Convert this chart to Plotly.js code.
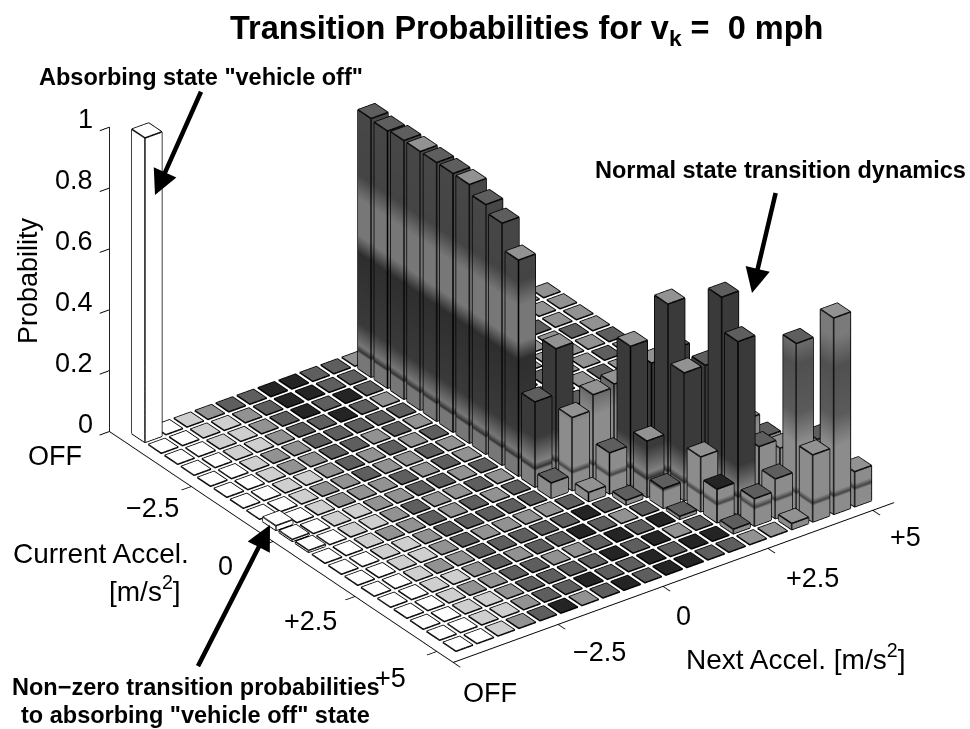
<!DOCTYPE html>
<html><head><meta charset="utf-8">
<script src="https://cdn.plot.ly/plotly-3.0.1.min.js"></script>
<style>html,body{margin:0;padding:0;background:#fff}#plot{width:970px;height:729px}</style>
</head><body><div id="plot"></div>
<script>
// Current accel rows (index 0 = OFF) and next accel columns
const gridSize = 20;
const tickPos = [-1, 4, 9, 14, 19];
const currentTicks = ["OFF", "\u22122.5", "0", "+2.5", "+5"];
const nextTicks = ["OFF", "\u22122.5", "0", "+2.5", "+5"];
const probTicks = [0, 0.2, 0.4, 0.6, 0.8, 1];
const probTickText = ["0", "0.2", "0.4", "0.6", "0.8", "1"];

// Non-zero bars
const barCurrent = [0, 8, 9, 10, 1,2,3,4,5,6,7,8,9,10, 11,11,12,12,12,12,13,13,13,13,13,14,14,14,14,15,15,15,15,16,16,16,16,16,17,17,17,17,18,18,18,18,18,19,19,19,19];
const barNext    = [0, 0, 0, 0, 10,10,10,10,10,10,10,10,10,10, 10,11,10,11,12,13,11,12,13,14,15,12,13,14,16,13,14,15,16,13,14,15,16,17,14,15,16,17,14,15,16,17,18,16,17,18,19];
const barProb    = [1, .015,.006,.006, .85,.845,.85,.85,.85,.85,.85,.82,.795,.71, .28,.43,.05,.24,.29,.30,.03,.135,.46,.38,.40,.015,.185,.61,.30,.065,.42,.42,.25,.01,.18,.68,.25,.17,.11,.57,.20,.17,.015,.09,.13,.55,.21,.02,.22,.645,.115];
// Side tone of each bar: 0 pale, 1 grey, 2 dark with a pale band, 3 dark
const barTone    = [0, 0,0,0, 2,2,2,2,2,2,2,2,2,2, 3,3,1,1,1,1,1,1,3,3,3,1,3,3,1,1,3,3,1,1,1,3,1,1,1,3,1,1,1,1,1,1,1,1,1,1,1];
// Halftone level of each cell top, one string per current accel row
const cellShade = [
"00123344332222222222","00112344333222232222","00112343433323222322","00112334323322222232",
"00122333332232322223","00122332323322232232","00112323233232322323","00122322322323232232",
"00122232323322323223","00112233233322232232","00112322322332323322","00122323233232322323",
"00112333333222333232","00112322223232233323","00122333334332222323","00112323343233232332",
"00122332234343232333","00112333343423433232","00112334334344333332","00123423434433222222"];
const shadeColors = ["#ffffff","#cfcfcf","#929292","#5e5e5e","#242424"];
const half = 0.4;

const height = [...Array(gridSize)].map(() => Array(gridSize).fill(0));
const tone = [...Array(gridSize)].map(() => Array(gridSize).fill(0));
barCurrent.forEach((j, k) => { height[j][barNext[k]] = barProb[k]; tone[j][barNext[k]] = barTone[k]; });

function newMesh() { return {x:[],y:[],z:[],i:[],j:[],k:[],fc:[]}; }
function quad(m, pts, color) {
  const n = m.x.length;
  pts.forEach(p => { m.x.push(p[0]); m.y.push(p[1]); m.z.push(p[2]); });
  m.i.push(n, n); m.j.push(n+1, n+2); m.k.push(n+2, n+3);
  if (color) m.fc.push(color, color);
}
const tops = newMesh();
const sides = [newMesh(), newMesh(), newMesh(), newMesh()];
const ex = [], ey = [], ez = [];
function edge(pts) { pts.forEach(p => { ex.push(p[0]); ey.push(p[1]); ez.push(p[2]); }); ex.push(null); ey.push(null); ez.push(null); }

for (let j = 0; j < gridSize; j++) for (let i = 0; i < gridSize; i++) {
  const h = height[j][i];
  const x0 = j-half, x1 = j+half, y0 = i-half, y1 = i+half;
  quad(tops, [[x0,y0,h],[x1,y0,h],[x1,y1,h],[x0,y1,h]], shadeColors[+cellShade[j][i]]);
  edge([[x0,y0,h],[x1,y0,h],[x1,y1,h],[x0,y1,h],[x0,y0,h]]);
  if (h > 0) {
    const s = sides[tone[j][i]];
    quad(s, [[x1,y0,0],[x1,y1,0],[x1,y1,h],[x1,y0,h]]);
    quad(s, [[x0,y0,0],[x1,y0,0],[x1,y0,h],[x0,y0,h]]);
    quad(s, [[x0,y1,0],[x1,y1,0],[x1,y1,h],[x0,y1,h]]);
    quad(s, [[x0,y0,0],[x0,y1,0],[x0,y1,h],[x0,y0,h]]);
    edge([[x0,y0,0],[x1,y0,0],[x1,y1,0]]);
    edge([[x1,y0,0],[x1,y0,h]]);
    edge([[x1,y1,0],[x1,y1,h]]);
    edge([[x0,y0,0],[x0,y0,h]]);
  }
}
const flat = {ambient:1,diffuse:0,specular:0,roughness:1,fresnel:0};
const scales = [
  [[0,"#ffffff"],[1,"#ffffff"]],
  [[0,"#8c8c8c"],[.05,"#8c8c8c"],[.06,"#444"],[.075,"#8c8c8c"],[.22,"#8c8c8c"],[.32,"#5a5a5a"],[.48,"#505050"],[.58,"#7a7a7a"],[1,"#7a7a7a"]],
  [[0,"#777"],[.05,"#777"],[.06,"#333"],[.08,"#777"],[.15,"#3a3a3a"],[.38,"#2e2e2e"],[.44,"#777"],[.56,"#777"],[.64,"#444"],[1,"#4a4a4a"]],
  [[0,"#808080"],[.05,"#808080"],[.06,"#333"],[.08,"#808080"],[.16,"#3a3a3a"],[1,"#3a3a3a"]]
];
const data = [{type:"mesh3d",x:tops.x,y:tops.y,z:tops.z,i:tops.i,j:tops.j,k:tops.k,facecolor:tops.fc,flatshading:true,lighting:flat,hoverinfo:"skip",showscale:false}];
sides.forEach((s, t) => data.push({type:"mesh3d",x:s.x,y:s.y,z:s.z,i:s.i,j:s.j,k:s.k,intensity:s.z,cmin:0,cmax:1,colorscale:scales[t],lighting:flat,hoverinfo:"skip",showscale:false}));
data.push({type:"scatter3d",mode:"lines",x:ex,y:ey,z:ez,line:{color:"#000",width:3},hoverinfo:"skip",showlegend:false,connectgaps:false});

const axisBase = {showgrid:false,zeroline:false,showbackground:false,showspikes:false,showline:true,linecolor:"#000",linewidth:2,ticks:"outside",ticklen:12,tickcolor:"#000",tickwidth:2,showticklabels:false,title:{text:""},tickmode:"array"};
const tickFont = {family:"Liberation Sans",size:27,color:"#000"};
function txt(text,x,y,size,bold,opts){return Object.assign({text:bold?"<b>"+text+"</b>":text,xref:"paper",yref:"paper",x:x/970,y:1-y/729,showarrow:false,font:{family:"Liberation Sans",size:size,color:"#000"},xanchor:"center",yanchor:"middle"},opts||{});}
function arrow(x0,y0,x1,y1){return {text:" ",xref:"paper",yref:"paper",axref:"paper",ayref:"paper",x:x1/970,y:1-y1/729,ax:x0/970,ay:1-y0/729,showarrow:true,arrowhead:2,arrowsize:1.1,arrowwidth:4.5,arrowcolor:"#000"};}
const curShift = [[-54,-24],[-39,-22],[-48,-25],[-44,-25],[-46,-27]];
const nextShift = [[37,-31],[41,-28],[20,-30],[45,-30],[33,-27]];
const sceneLabels = [];
currentTicks.forEach((t,k)=>sceneLabels.push({x:tickPos[k],y:-1,z:0,text:t,showarrow:false,font:tickFont,xshift:curShift[k][0],yshift:curShift[k][1]}));
nextTicks.forEach((t,k)=>sceneLabels.push({x:20,y:tickPos[k],z:0,text:t,showarrow:false,font:tickFont,xshift:nextShift[k][0],yshift:nextShift[k][1]}));
probTickText.forEach((t,k)=>sceneLabels.push({x:-1,y:-1,z:probTicks[k],text:t,showarrow:false,font:tickFont,xanchor:"right",xshift:-14,yshift:8}));

const dir = [.701,-.515,.4936], dist = 2.6, ctr = [.0269,-.0764,-.1184];
const layout = {
  width:970,height:729,margin:{l:0,r:0,t:0,b:0},paper_bgcolor:"#fff",showlegend:false,
  title:{text:"<b>Transition Probabilities for v<sub>k</sub> =  0 mph</b>",font:{family:"Liberation Sans",size:32.5,color:"#000"},x:.543,xanchor:"center",y:.962,yanchor:"middle"},
  scene:{
    domain:{x:[0,1],y:[0,1]},
    aspectmode:"manual",aspectratio:{x:1.593,y:1.5,z:.96},
    camera:{projection:{type:"orthographic"},up:{x:0,y:0,z:1},center:{x:ctr[0],y:ctr[1],z:ctr[2]},eye:{x:ctr[0]+dir[0]*dist,y:ctr[1]+dir[1]*dist,z:ctr[2]+dir[2]*dist}},
    xaxis:Object.assign({},axisBase,{range:[-1,20],tickvals:tickPos}),
    yaxis:Object.assign({},axisBase,{range:[-1,20],tickvals:tickPos}),
    zaxis:Object.assign({},axisBase,{range:[0,1],tickvals:probTicks}),
    annotations:sceneLabels
  },
  annotations:[
    txt("Probability",28,281,27,false,{textangle:-90}),
    txt("Current Accel.",101,553,28,false),
    txt("[m/s<sup>2</sup>]",145,589,28,false),
    txt("Next Accel. [m/s<sup>2</sup>]",795,657,28,false),
    txt('Absorbing state "vehicle off"',201,77,23.5,true),
    txt("Normal state transition dynamics",780,170,23.5,true),
    txt("Non\u2212zero transition probabilities",196,687,23.5,true),
    txt('to absorbing "vehicle off" state',195,715,23.5,true),
    arrow(204,85,155,195),
    arrow(778,183,752,293),
    arrow(195,672,270,525)
  ]
};
Plotly.newPlot("plot",data,layout,{displayModeBar:false});
</script></body></html>
